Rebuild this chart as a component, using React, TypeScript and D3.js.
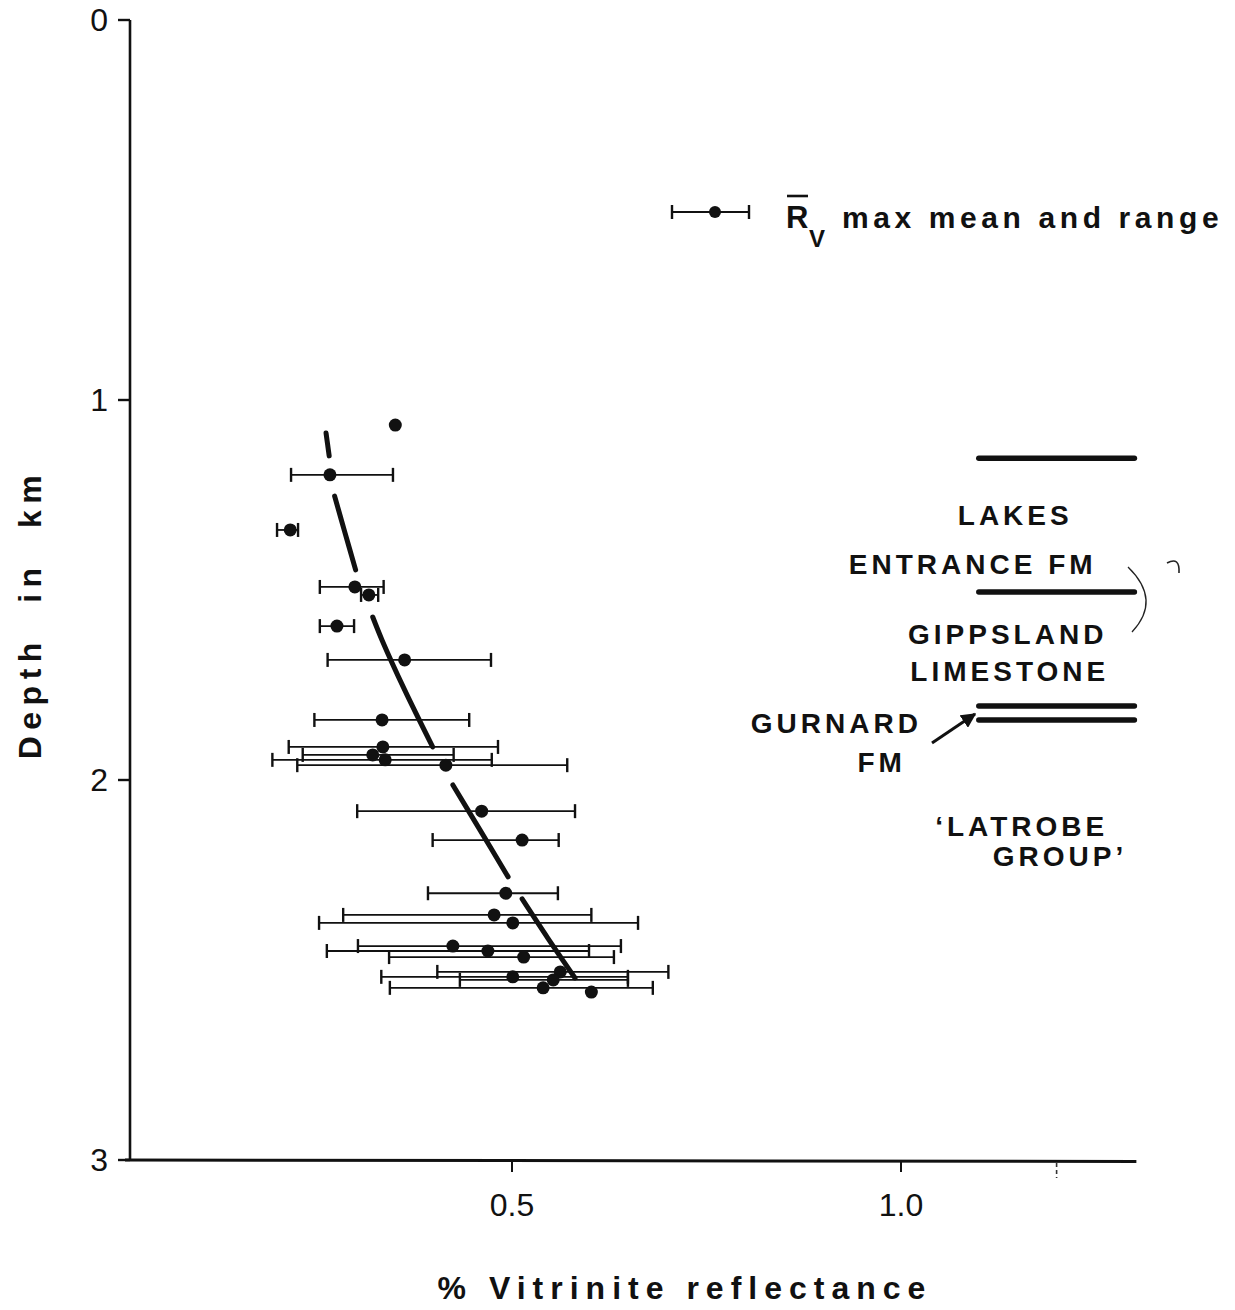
import React from "react";
import * as d3 from "d3";

// ---- data ----
const depthKm = [1.066, 1.197, 1.342, 1.492, 1.513, 1.595, 1.684, 1.842, 1.913, 1.934, 1.947, 1.961, 2.082, 2.158, 2.298, 2.355, 2.376, 2.437, 2.45, 2.466, 2.505, 2.518, 2.526, 2.547, 2.558];
const rvMean = [0.35, 0.266, 0.215, 0.298, 0.316, 0.275, 0.362, 0.333, 0.334, 0.321, 0.337, 0.415, 0.461, 0.513, 0.492, 0.477, 0.501, 0.424, 0.469, 0.515, 0.562, 0.501, 0.553, 0.54, 0.602];
const rvLow: (number | null)[] = [null, 0.216, 0.198, 0.253, 0.306, 0.253, 0.263, 0.246, 0.213, 0.231, 0.192, 0.224, 0.301, 0.398, 0.392, 0.283, 0.252, 0.302, 0.262, 0.342, 0.404, 0.332, 0.433, 0.343, null];
const rvHigh: (number | null)[] = [null, 0.347, 0.225, 0.335, 0.328, 0.297, 0.473, 0.445, 0.482, 0.425, 0.474, 0.571, 0.581, 0.56, 0.559, 0.602, 0.662, 0.64, 0.599, 0.631, 0.701, 0.649, 0.649, 0.681, null];

// trend line (dashed segments) : [reflectance, depth]
const trendSegments: [number, number][][] = [
  [[0.261, 1.087], [0.263, 1.117], [0.265, 1.147]],
  [[0.272, 1.253], [0.285, 1.347], [0.299, 1.447]],
  [[0.321, 1.571], [0.333, 1.632], [0.362, 1.763], [0.398, 1.913]],
  [[0.424, 2.013], [0.459, 2.132], [0.495, 2.255]],
  [[0.513, 2.313], [0.546, 2.416], [0.581, 2.521]],
];

const formationTops = [1.153, 1.505, 1.805, 1.842];
const formationX: [number, number] = [1.1, 1.3];

const formationLabels = [
  { text: "LAKES", x: 1.073, d: 1.328 },
  { text: "ENTRANCE FM", x: 0.933, d: 1.458 },
  { text: "GIPPSLAND", x: 1.009, d: 1.642 },
  { text: "LIMESTONE", x: 1.012, d: 1.739 },
  { text: "GURNARD", x: 0.807, d: 1.876 },
  { text: "FM", x: 0.944, d: 1.979 },
  { text: "\u2018LATROBE", x: 1.044, d: 2.147 },
  { text: "GROUP\u2019", x: 1.118, d: 2.226 },
];

const yTicks = [0, 1, 2, 3];
const xTicks = [0.5, 1.0];
const xTickLabels = ["0.5", "1.0"];
const xMinorTicks = [1.2];

const xTitle = "% Vitrinite reflectance";
const yTitle = "Depth in km";
const legendText = "max mean and range";

// ---- layout ----
const W = 1235;
const H = 1310;
const x = d3.scaleLinear().domain([0, 1.3]).range([123, 1134.4]);
const y = d3.scaleLinear().domain([0, 3]).range([20, 1160]);

const FONT = "'Liberation Sans', Arial, Helvetica, sans-serif";

export default function App() {
  const line = d3
    .line<[number, number]>()
    .x((p) => x(p[0]))
    .y((p) => y(p[1]))
    .curve(d3.curveCatmullRom);

  const axisX = 130;
  const cap = 7;

  return (
    <svg
      width={W}
      height={H}
      viewBox={`0 0 ${W} ${H}`}
      style={{ position: "absolute", left: 0, top: 0, background: "#fff" }}
      fontFamily={FONT}
    >
      <rect width={W} height={H} fill="#fff" />
      {/* y axis */}
      <line x1={axisX} y1={y(0)} x2={axisX} y2={y(3)} stroke="#111" strokeWidth={2.6} />
      {yTicks.map((t) => (
        <g key={t}>
          <line x1={axisX - 12} x2={axisX} y1={y(t)} y2={y(t)} stroke="#111" strokeWidth={2.4} />
          <text x={108} y={y(t) + 11} textAnchor="end" fontSize={32} fill="#111">
            {t}
          </text>
        </g>
      ))}
      {/* x axis */}
      <line x1={125} y1={y(3)} x2={x(1.3) + 2} y2={y(3) + 1.5} stroke="#111" strokeWidth={3} />
      {xTicks.map((t, i) => (
        <g key={t}>
          <line x1={x(t)} x2={x(t)} y1={y(3)} y2={y(3) + 12} stroke="#111" strokeWidth={2} />
          <text x={x(t)} y={y(3) + 56} textAnchor="middle" fontSize={32} fill="#111">
            {xTickLabels[i]}
          </text>
        </g>
      ))}
      {xMinorTicks.map((t) => (
        <line key={t} x1={x(t)} x2={x(t)} y1={y(3) + 3} y2={y(3) + 18} stroke="#333" strokeWidth={1.6} strokeDasharray="4 3" />
      ))}

      {/* axis titles */}
      <text x={685} y={1299} textAnchor="middle" fontSize={32} fontWeight="bold" letterSpacing={7} fill="#111">
        {xTitle}
      </text>
      <text
        transform="translate(41,614) rotate(-90)"
        textAnchor="middle"
        fontSize={32}
        fontWeight="bold"
        letterSpacing={6.5}
        wordSpacing={18}
        fill="#111"
      >
        {yTitle}
      </text>

      {/* error bars */}
      {depthKm.map((d, i) => {
        const lo = rvLow[i];
        const hi = rvHigh[i];
        if (lo == null || hi == null) return null;
        const yy = y(d);
        return (
          <g key={"e" + i} stroke="#111" strokeWidth={1.8}>
            <line x1={x(lo)} x2={x(hi)} y1={yy} y2={yy} />
            <line x1={x(lo)} x2={x(lo)} y1={yy - cap} y2={yy + cap} strokeWidth={2.4} />
            <line x1={x(hi)} x2={x(hi)} y1={yy - cap} y2={yy + cap} strokeWidth={2.4} />
          </g>
        );
      })}
      {/* points */}
      {depthKm.map((d, i) => (
        <circle key={"p" + i} cx={x(rvMean[i])} cy={y(d)} r={6.5} fill="#111" />
      ))}

      {/* trend */}
      {trendSegments.map((seg, i) => (
        <path key={"t" + i} d={line(seg) || ""} fill="none" stroke="#111" strokeWidth={5} strokeLinecap="round" />
      ))}

      {/* legend */}
      <g>
        <line x1={672} x2={749} y1={212} y2={212} stroke="#111" strokeWidth={1.8} />
        <line x1={672} x2={672} y1={205} y2={219} stroke="#111" strokeWidth={2.4} />
        <line x1={749} x2={749} y1={205} y2={219} stroke="#111" strokeWidth={2.4} />
        <circle cx={715} cy={212} r={6} fill="#111" />
        <text x={786} y={228} fontSize={31} fontWeight="bold" fill="#111">R</text>
        <line x1={787} x2={808} y1={196} y2={196} stroke="#111" strokeWidth={2.6} />
        <text x={809} y={247} fontSize={24} fontWeight="bold" fill="#111">V</text>
        <text x={842} y={228} fontSize={30} fontWeight="bold" letterSpacing={4.6} fill="#111">
          {legendText}
        </text>
      </g>

      {/* formation boundaries */}
      {formationTops.map((d, i) => (
        <line key={"f" + i} x1={x(formationX[0])} x2={x(formationX[1])} y1={y(d)} y2={y(d)} stroke="#111" strokeWidth={5.5} strokeLinecap="round" />
      ))}
      {formationLabels.map((l, i) => (
        <text key={"l" + i} x={x(l.x)} y={y(l.d)} fontSize={28} fontWeight="bold" letterSpacing={4} fill="#111">
          {l.text}
        </text>
      ))}

      {/* arrow to Gurnard Fm */}
      <defs>
        <marker id="ah" viewBox="0 0 10 10" refX={9} refY={5} markerWidth={5} markerHeight={5} orient="auto">
          <path d="M0,0 L10,5 L0,10 z" fill="#111" />
        </marker>
      </defs>
      <line x1={932} y1={743} x2={975} y2={714} stroke="#111" strokeWidth={3} markerEnd="url(#ah)" />

      {/* bracket and small marks */}
      <path d="M1128,567 Q1162,600 1132,632" fill="none" stroke="#222" strokeWidth={1.3} />
      <path d="M1167,563 Q1180,556 1179,573" fill="none" stroke="#222" strokeWidth={1.6} />
    </svg>
  );
}
